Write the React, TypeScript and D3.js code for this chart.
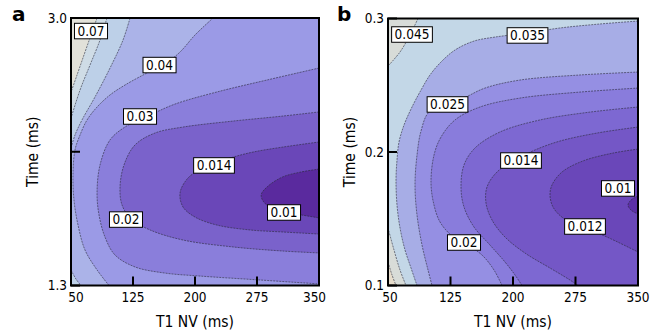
import React from 'react';
import * as d3 from 'd3';

type Pt = [number, number];

// ---------- data ----------
const xTicks = [50, 125, 200, 275, 350];
const aYTicks = [1.3, 2.15, 3.0];
const aYTickLabels = ['1.3', '', '3.0'];
const bYTicks = [0.1, 0.2, 0.3];
const bYTickLabels = ['0.1', '0.2', '0.3'];

// panel a contour levels and lines (T1 NV ms, Time ms)
const aLevels = [0.01, 0.014, 0.02, 0.03, 0.04, 0.05, 0.06, 0.07];
const aLine010: Pt[] = [[350, 2.04], [327, 2.02], [306, 1.99], [288, 1.93], [280, 1.875], [285, 1.82], [304, 1.775], [327, 1.75], [350, 1.73]];
const aLine014: Pt[] = [[350, 2.212], [306.5, 2.18], [270.2, 2.148], [242.3, 2.11], [212.1, 2.053], [191.5, 1.983], [181.9, 1.888], [185.5, 1.799], [200, 1.735], [226.6, 1.684], [266.5, 1.653], [306.5, 1.64], [350, 1.627]];
const aLine020: Pt[] = [[350, 2.403], [306.5, 2.377], [246, 2.345], [185.5, 2.307], [151.6, 2.269], [127.4, 2.193], [114.1, 2.066], [109.3, 1.926], [111.7, 1.812], [122.6, 1.723], [145.6, 1.653], [185.5, 1.589], [246, 1.545], [306.5, 1.519], [350, 1.507]];
const aLine030: Pt[] = [[350, 2.682], [287.1, 2.606], [226.6, 2.53], [175.8, 2.453], [145.6, 2.383], [115.3, 2.307], [97.2, 2.225], [85.1, 2.066], [81.5, 1.888], [83.9, 1.748], [91.1, 1.608], [103.2, 1.494], [127.4, 1.418], [163.7, 1.379], [206.1, 1.36], [278.6, 1.335], [350, 1.31]];
const aLine040: Pt[] = [[221.8, 3.0], [200, 2.892], [181.9, 2.784], [163.7, 2.708], [139.5, 2.644], [115.3, 2.574], [97.2, 2.511], [81.5, 2.434], [69.4, 2.352], [60.9, 2.256], [54.8, 2.161], [52.4, 2.002], [53.6, 1.843], [58.5, 1.684], [66.9, 1.526], [81.5, 1.399], [96, 1.3]];
const aLine050top: Pt[] = [[121.4, 3.0], [112.9, 2.86], [97.2, 2.682], [79, 2.498], [63.3, 2.352], [54.8, 2.256], [50, 2.174]];
const aLine050bottom: Pt[] = [[50, 1.399], [56, 1.341], [62.1, 1.3]];
const aLine060: Pt[] = [[93.5, 3.0], [85.1, 2.86], [73, 2.701], [60.9, 2.542], [50, 2.364]];
const aLine070: Pt[] = [[81.5, 3.0], [74.2, 2.892], [65.7, 2.765], [57.3, 2.638], [50, 2.529]];
const aLabelText = ['0.07', '0.04', '0.03', '0.014', '0.02', '0.01'];
const aLabelPos: Pt[] = [[74.2, 2.917], [157.1, 2.701], [133.5, 2.374], [223, 2.063], [116.5, 1.719], [307.7, 1.764]];

// panel b contour levels and lines
const bLevels = [0.01, 0.012, 0.014, 0.017, 0.02, 0.025, 0.035, 0.045, 0.055];
const bLine010: Pt[] = [[350, 0.167], [341.6, 0.164], [338, 0.1603], [341.6, 0.1565], [350, 0.1535]];
const bLine012: Pt[] = [[350, 0.2022], [320, 0.1992], [284, 0.1933], [258.8, 0.185], [246.8, 0.1753], [244.4, 0.1678], [248, 0.1588], [260, 0.1506], [286.4, 0.1431], [312.8, 0.1363], [350, 0.1251]];
const bLine014: Pt[] = [[350, 0.2187], [300.8, 0.2142], [256.4, 0.2082], [226.4, 0.2015], [202.4, 0.194], [180.8, 0.185], [168.8, 0.1738], [167.6, 0.1618], [174.8, 0.1491], [190.4, 0.1363], [214.4, 0.1243], [244.4, 0.1131], [268.4, 0.1041], [278, 0.1]];
const bLine017: Pt[] = [[350, 0.2337], [292.4, 0.2299], [232.4, 0.224], [184.4, 0.215], [154.4, 0.203], [141.2, 0.1903], [137.6, 0.1738], [141.2, 0.1588], [153.2, 0.1438], [172.4, 0.1303], [190.4, 0.1176], [202.4, 0.1079], [210.8, 0.1]];
const bLine020: Pt[] = [[350, 0.2479], [280.4, 0.2449], [208.4, 0.2404], [160.4, 0.2337], [130.4, 0.224], [113.6, 0.2112], [105.2, 0.1977], [101.6, 0.1768], [105.2, 0.1603], [112.4, 0.1476], [126.8, 0.1371], [143.6, 0.1311], [162.8, 0.1228], [177.2, 0.1116], [186.8, 0.1]];
const bLine025: Pt[] = [[350, 0.2599], [280.4, 0.2577], [208.4, 0.2539], [166.4, 0.2479], [143.6, 0.2412], [122, 0.2352], [99.2, 0.2299], [89.6, 0.2157], [84.8, 0.1977], [82.4, 0.1753], [84.8, 0.1528], [90.8, 0.1303], [98, 0.1116], [102.8, 0.1]];
const bLine035: Pt[] = [[350, 0.2981], [304.4, 0.2959], [256.4, 0.2929], [216.8, 0.2891], [178.4, 0.2861], [153.2, 0.2831], [130.4, 0.2764], [113.6, 0.2674], [100.4, 0.2577], [89.6, 0.2464], [78.8, 0.2337], [69.2, 0.2202], [63.2, 0.2075], [60.8, 0.194], [59.6, 0.179], [60.8, 0.1603], [64.4, 0.1431], [70.4, 0.1266], [77.6, 0.1131], [84.8, 0.1]];
const bLine045top: Pt[] = [[86, 0.3], [76.4, 0.2877], [64.4, 0.2749], [50, 0.2644]];
const bLine045bottom: Pt[] = [[50, 0.1431], [57.2, 0.1266], [64.4, 0.1116], [71.6, 0.1]];
const bLine055: Pt[] = [[50, 0.1176], [54.8, 0.1079], [59.6, 0.1]];
const bLabelText = ['0.045', '0.035', '0.025', '0.014', '0.01', '0.012', '0.02'];
const bLabelPos: Pt[] = [[78.8, 0.288], [217.4, 0.2873], [121.4, 0.2356], [209.6, 0.1936], [326, 0.1727], [286.4, 0.1442], [141.2, 0.1322]];

// ---------- styles ----------
const aColors = ['#5a2a9e', '#6a47b8', '#7a62cb', '#8a7edb', '#9b9ae6', '#abb3e8', '#bdd0e8', '#cfdce6', '#e2e1d9'];
const bColors = ['#5c2fa6', '#6a47b9', '#7457c6', '#7d68d2', '#897cdc', '#958fe3', '#a7ade6', '#c3d7e7', '#d8dcd8', '#e6dccb'];
const FONT = "'DejaVu Sans Condensed', 'DejaVu Sans', sans-serif";

type Corner = 'TL' | 'TR' | 'BL' | 'BR';
interface Seg { level: number; pts: Pt[]; high: Corner[] }

const aSegs: Seg[] = [
  { level: 0.01, pts: aLine010, high: ['BR', 'BL', 'TL', 'TR'] },
  { level: 0.014, pts: aLine014, high: ['BR', 'BL', 'TL', 'TR'] },
  { level: 0.02, pts: aLine020, high: ['BR', 'BL', 'TL', 'TR'] },
  { level: 0.03, pts: aLine030, high: ['BR', 'BL', 'TL', 'TR'] },
  { level: 0.04, pts: aLine040, high: ['BL', 'TL'] },
  { level: 0.05, pts: aLine050top, high: ['TL'] },
  { level: 0.05, pts: aLine050bottom, high: ['BL'] },
  { level: 0.06, pts: aLine060, high: ['TL'] },
  { level: 0.07, pts: aLine070, high: ['TL'] },
];
const bSegs: Seg[] = [
  { level: 0.01, pts: bLine010, high: ['BR', 'BL', 'TL', 'TR'] },
  { level: 0.012, pts: bLine012, high: ['BR', 'BL', 'TL', 'TR'] },
  { level: 0.014, pts: bLine014, high: ['BL', 'TL', 'TR'] },
  { level: 0.017, pts: bLine017, high: ['BL', 'TL', 'TR'] },
  { level: 0.02, pts: bLine020, high: ['BL', 'TL', 'TR'] },
  { level: 0.025, pts: bLine025, high: ['BL', 'TL', 'TR'] },
  { level: 0.035, pts: bLine035, high: ['BL', 'TL', 'TR'] },
  { level: 0.045, pts: bLine045top, high: ['TL'] },
  { level: 0.045, pts: bLine045bottom, high: ['BL'] },
  { level: 0.055, pts: bLine055, high: ['BL'] },
];

let measureCtx: CanvasRenderingContext2D | null = null;
function textWidth(s: string, size: number): number {
  if (!measureCtx) {
    const c = document.createElement('canvas');
    measureCtx = c.getContext('2d');
  }
  if (!measureCtx) return s.length * size * 0.55;
  measureCtx.font = `${size}px 'DejaVu Sans Condensed', 'DejaVu Sans'`;
  return measureCtx.measureText(s).width;
}

interface PanelProps {
  id: string;
  letter: string;
  x0: number; x1: number; y0: number; y1: number;
  yDomain: [number, number];
  yTicks: number[]; yTickLabels: string[];
  levels: number[]; colors: string[]; segs: Seg[];
  labelText: string[]; labelPos: Pt[];
  xLabelDx: number[];
  letterX: number;
  yTitleX: number;
}

function Panel(p: PanelProps) {
  const xs = d3.scaleLinear().domain([50, 350]).range([p.x0, p.x1]);
  const ys = d3.scaleLinear().domain(p.yDomain).range([p.y1, p.y0]);
  const line = d3.line<Pt>().x(d => xs(d[0])).y(d => ys(d[1])).curve(d3.curveCatmullRom.alpha(0.5));
  const cornerPt = (c: Corner): [number, number] => {
    const cx = c === 'TL' || c === 'BL' ? xs.range()[0] - 2 : xs.range()[1] + 2;
    const cy = c === 'TL' || c === 'TR' ? ys.range()[1] - 2 : ys.range()[0] + 2;
    return [cx, cy];
  };
  const sorted = [...p.segs].sort((a, b) => a.level - b.level);
  const fillPath = (s: Seg) => {
    const base = line(s.pts) || '';
    const corners = s.high.map(c => { const q = cornerPt(c); return `L${q[0]},${q[1]}`; }).join('');
    return base + corners + 'Z';
  };
  const fs = 13.5;
  return (
    <g>
      <defs>
        <clipPath id={`clip-${p.id}`}>
          <rect x={p.x0} y={p.y0} width={p.x1 - p.x0} height={p.y1 - p.y0} />
        </clipPath>
      </defs>
      <g clipPath={`url(#clip-${p.id})`}>
        <rect x={p.x0} y={p.y0} width={p.x1 - p.x0} height={p.y1 - p.y0} fill={p.colors[0]} />
        {sorted.map((s, i) => (
          <path key={`f${i}`} d={fillPath(s)} fill={p.colors[p.levels.indexOf(s.level) + 1]} stroke="none" />
        ))}
        {sorted.map((s, i) => (
          <path key={`l${i}`} d={line(s.pts) || ''} fill="none" stroke="#2a2a3a" strokeWidth={0.7} strokeDasharray="2 1" strokeOpacity={0.85} />
        ))}
      </g>
      {p.labelText.map((t, i) => {
        const w = textWidth(t, fs) + 6;
        const h = 15.5;
        const cx = xs(p.labelPos[i][0]);
        const cy = ys(p.labelPos[i][1]);
        return (
          <g key={`lab${i}`}>
            <rect x={cx - w / 2} y={cy - h / 2} width={w} height={h} fill="#fff" stroke="#000" strokeWidth={1} />
            <text x={cx} y={cy + 4.8} textAnchor="middle" fontSize={fs} fontFamily={FONT} fill="#000">{t}</text>
          </g>
        );
      })}
      <rect x={p.x0} y={p.y0} width={p.x1 - p.x0} height={p.y1 - p.y0} fill="none" stroke="#000" strokeWidth={2} />
      {xTicks.map((t, i) => (
        <g key={`xt${i}`}>
          <line x1={xs(t)} x2={xs(t)} y1={p.y1} y2={p.y1 - 9} stroke="#000" strokeWidth={2} />
          <text x={xs(t) + p.xLabelDx[i]} y={p.y1 + 16} textAnchor="middle" fontSize={13.5} fontFamily={FONT} fill="#000">{t}</text>
        </g>
      ))}
      {p.yTicks.map((t, i) => (
        <g key={`yt${i}`}>
          <line x1={p.x0} x2={p.x0 + 9} y1={ys(t)} y2={ys(t)} stroke="#000" strokeWidth={2} />
          <text x={p.x0 - 4} y={ys(t) + 4.8} textAnchor="end" fontSize={13.5} fontFamily={FONT} fill="#000">{p.yTickLabels[i]}</text>
        </g>
      ))}
      <text x={(p.x0 + p.x1) / 2} y={p.y1 + 41} textAnchor="middle" fontSize={15.5} fontFamily={FONT} fill="#000">T1 NV (ms)</text>
      <text transform={`translate(${p.yTitleX},${(p.y0 + p.y1) / 2}) rotate(-90)`} textAnchor="middle" fontSize={15.5} fontFamily={FONT} fill="#000">Time (ms)</text>
      <text x={p.letterX} y={21} fontSize={20} fontWeight="bold" fontFamily="'DejaVu Sans', sans-serif" fill="#000">{p.letter}</text>
    </g>
  );
}

export default function App() {
  return (
    <svg width={663} height={333} style={{ position: 'absolute', left: 0, top: 0, background: '#fff' }}>
      <rect x={0} y={0} width={663} height={333} fill="#fff" />
      <Panel id="a" letter="a" x0={71} x1={319} y0={18} y1={285.5} yDomain={[1.3, 3.0]}
        yTicks={aYTicks} yTickLabels={aYTickLabels} levels={aLevels} colors={aColors} segs={aSegs}
        labelText={aLabelText} labelPos={aLabelPos} xLabelDx={[5, 0, 0, 0, -4.5]} letterX={12} yTitleX={38} />
      <Panel id="b" letter="b" x0={388} x1={638} y0={18.5} y1={285.5} yDomain={[0.1, 0.3]}
        yTicks={bYTicks} yTickLabels={bYTickLabels} levels={bLevels} colors={bColors} segs={bSegs}
        labelText={bLabelText} labelPos={bLabelPos} xLabelDx={[2, 0, 0, 0, 0]} letterX={337} yTitleX={355} />
    </svg>
  );
}
